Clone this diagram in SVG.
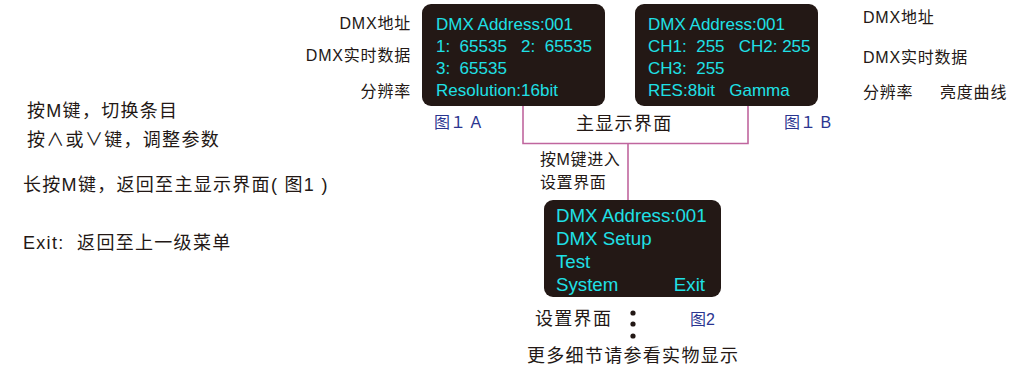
<svg xmlns="http://www.w3.org/2000/svg" width="1029" height="369" viewBox="0 0 1029 369">
<style>
.box{fill:#231815}
.scr{font-family:"Liberation Sans",Arial,sans-serif;font-size:17px;fill:#1fe0e6}
.scr2{font-family:"Liberation Sans",Arial,sans-serif;font-size:18.7px;fill:#1fe0e6}
.lbl{font-family:"Liberation Sans","Noto Sans CJK SC",sans-serif;font-size:16px;letter-spacing:0.8px;fill:#231815}
.mid{font-family:"Liberation Sans","Noto Sans CJK SC",sans-serif;font-size:16px;letter-spacing:0.6px;fill:#231815}
.big{font-family:"Liberation Sans","Noto Sans CJK SC",sans-serif;font-size:18px;letter-spacing:1.3px;fill:#231815}
.fig{font-family:"Liberation Sans","Noto Sans CJK SC",sans-serif;font-size:16px;fill:#2b3590}
.con{fill:none;stroke:#c0669e;stroke-width:1.6}
</style>
<rect width="1029" height="369" fill="#fff"/>
<g id="connectors">
<polyline class="con" points="523,105 523,143.5 748,143.5 748,105"/>
<line class="con" x1="628" y1="143.5" x2="628" y2="200"/>
</g>
<g id="nodeA">
<rect class="box" x="422" y="4" width="183" height="102" rx="9"/>
<text class="scr" x="436" y="30">DMX Address:001</text>
<text class="scr" x="436" y="52" xml:space="preserve">1:  65535   2:  65535</text>
<text class="scr" x="436" y="74" xml:space="preserve">3:  65535</text>
<text class="scr" x="436" y="96">Resolution:16bit</text>
</g>
<g id="nodeB">
<rect class="box" x="635" y="4" width="183" height="102" rx="9"/>
<text class="scr" x="648" y="30">DMX Address:001</text>
<text class="scr" x="648" y="52" xml:space="preserve">CH1:  255   CH2: 255</text>
<text class="scr" x="648" y="74" xml:space="preserve">CH3:  255</text>
<text class="scr" x="648" y="96" xml:space="preserve">RES:8bit   Gamma</text>
</g>
<g id="nodeC">
<rect class="box" x="544" y="200" width="177" height="97" rx="9"/>
<text class="scr2" x="556" y="222">DMX Address:001</text>
<text class="scr2" x="556" y="245">DMX Setup</text>
<text class="scr2" x="556" y="268">Test</text>
<text class="scr2" x="556" y="291">System</text>
<text class="scr2" x="705" y="291" text-anchor="end">Exit</text>
</g>
<g id="labelsA">
<text class="lbl" x="411" y="29" text-anchor="end">DMX地址</text>
<text class="lbl" x="411" y="61" text-anchor="end">DMX实时数据</text>
<text class="lbl" x="411" y="97" text-anchor="end">分辨率</text>
<text class="fig" x="434" y="128" xml:space="preserve">图１ A</text>
</g>
<g id="labelsB">
<text class="lbl" x="863" y="23">DMX地址</text>
<text class="lbl" x="863" y="63">DMX实时数据</text>
<text class="lbl" x="863" y="98">分辨率</text>
<text class="lbl" x="940" y="98">亮度曲线</text>
<text class="fig" x="784" y="128" xml:space="preserve">图１ B</text>
</g>
<g id="mainTitle">
<text class="big" x="576" y="130">主显示界面</text>
<text class="mid" x="540" y="165">按M键进入</text>
<text class="mid" x="540" y="188">设置界面</text>
</g>
<g id="instructions">
<text class="big" x="27" y="117">按M键，切换条目</text>
<text class="big" x="27" y="146">按∧或∨键，调整参数</text>
<text class="big" x="23" y="191">长按M键，返回至主显示界面( 图1 )</text>
<text class="big" x="23" y="249" xml:space="preserve">Exit:  返回至上一级菜单</text>
</g>
<g id="footer">
<text class="big" x="535" y="325">设置界面</text>
<circle cx="633" cy="313" r="2.6" fill="#231815"/>
<circle cx="633" cy="324" r="2.6" fill="#231815"/>
<circle cx="633" cy="336" r="2.6" fill="#231815"/>
<text class="fig" x="690" y="325">图2</text>
<text class="big" x="527" y="362">更多细节请参看实物显示</text>
</g>
</svg>
